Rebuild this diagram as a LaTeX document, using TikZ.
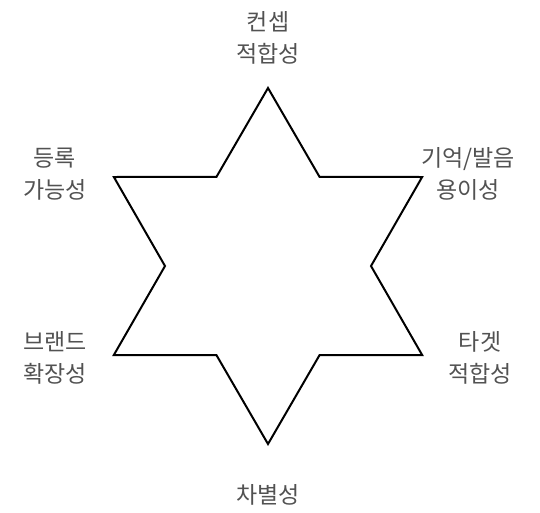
\documentclass[tikz,border=0pt]{standalone}
\usepackage{fontspec}
\setmainfont{Noto Sans CJK KR}
\usepackage{tikz}
\usetikzlibrary{positioning, calc}

\begin{document}
\begin{tikzpicture}[
  x=1pt, y=-1pt,
  font=\fontsize{23}{32}\selectfont,
  crit/.style={align=center, text=black!68, inner sep=0pt},
  star/.style={draw, line width=2pt, line join=miter},
]
  \useasboundingbox (0,0) rectangle (540,512);
  \coordinate (c) at (268,266);

  % outer and inner points of the star
  \foreach \i in {0,...,5} {
    \coordinate (o\i) at ($(c)+({90-60*\i}:178)$);
    \coordinate (n\i) at ($(c)+({60-60*\i}:103)$);
  }
  \draw[star] (o0) -- (n0) -- (o1) -- (n1) -- (o2) -- (n2) -- (o3)
    -- (n3) -- (o4) -- (n4) -- (o5) -- (n5) -- cycle;

  \node[crit] (concept) at (268,38) {컨셉\\적합성};
  \node[crit] (memory) at (468,174) {기억/발음\\용이성};
  \node[crit] (target) at (480,358) {타겟\\적합성};
  \node[crit] (diff) at (268,495) {차별성};
  \node[crit] (brand) at (55,358) {브랜드\\확장성};
  \node[crit] (regist) at (55,174) {등록\\가능성};
\end{tikzpicture}
\end{document}
